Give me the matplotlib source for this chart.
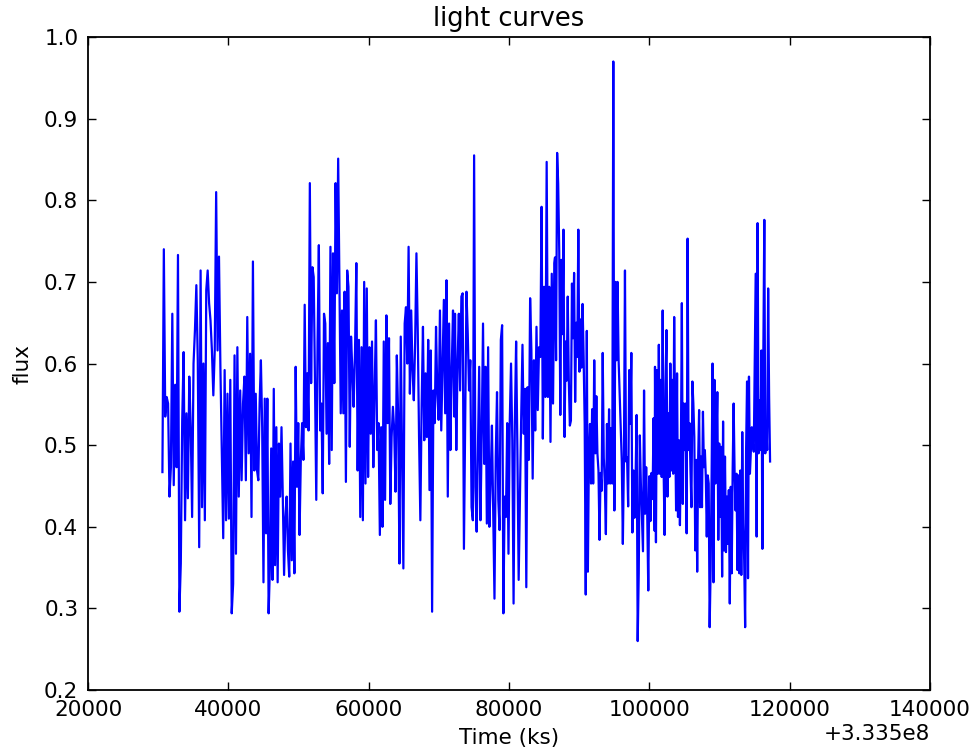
import numpy as np
import matplotlib
matplotlib.use("Agg")
import matplotlib.pyplot as plt
from matplotlib.ticker import ScalarFormatter, MultipleLocator

# time offset of the observation (s)
t_ref = 3.335e8

# good time intervals (start, stop) relative to t_ref, one flux block each
gti_start = [30600, 43900, 58050, 72300, 86550, 100800]
gti_stop = [43700, 57850, 72200, 86450, 100750, 117200]

flux_1 = [0.467, 0.740, 0.535, 0.559, 0.551, 0.437, 0.473, 0.661, 0.451, 0.574,
          0.473, 0.733, 0.296, 0.355, 0.531, 0.614, 0.408, 0.539, 0.435, 0.584,
          0.522, 0.412, 0.600, 0.641, 0.696, 0.604, 0.375, 0.714, 0.424, 0.600,
          0.408, 0.690, 0.714, 0.674, 0.653, 0.616, 0.561, 0.616, 0.810, 0.616,
          0.731, 0.596, 0.490, 0.386, 0.592, 0.408, 0.563, 0.410, 0.580, 0.294,
          0.330, 0.610, 0.367, 0.620, 0.437, 0.567, 0.457, 0.551, 0.584, 0.457,
          0.657, 0.490, 0.612, 0.412, 0.725, 0.469]

flux_2 = [0.563, 0.469, 0.457, 0.551, 0.604, 0.522, 0.332, 0.557, 0.392, 0.557,
          0.294, 0.351, 0.496, 0.335, 0.569, 0.353, 0.522, 0.332, 0.502, 0.437,
          0.522, 0.437, 0.341, 0.412, 0.437, 0.371, 0.339, 0.502, 0.359, 0.480,
          0.343, 0.596, 0.449, 0.527, 0.390, 0.482, 0.527, 0.482, 0.672, 0.522,
          0.588, 0.518, 0.821, 0.576, 0.718, 0.706, 0.576, 0.433, 0.627, 0.745,
          0.518, 0.551, 0.441, 0.661, 0.649, 0.514, 0.625, 0.477, 0.743, 0.494,
          0.735, 0.576, 0.821, 0.686, 0.851, 0.698, 0.539, 0.665, 0.539, 0.688,
          0.455, 0.714, 0.694, 0.498, 0.633, 0.592, 0.547]

flux_3 = [0.616, 0.723, 0.469, 0.629, 0.412, 0.620, 0.408, 0.700, 0.453, 0.692,
          0.461, 0.620, 0.514, 0.627, 0.473, 0.567, 0.653, 0.494, 0.527, 0.390,
          0.522, 0.400, 0.627, 0.433, 0.659, 0.527, 0.631, 0.428, 0.510, 0.547,
          0.518, 0.443, 0.610, 0.535, 0.355, 0.633, 0.494, 0.349, 0.649, 0.669,
          0.600, 0.743, 0.563, 0.665, 0.592, 0.555, 0.625, 0.735, 0.641, 0.510,
          0.408, 0.551, 0.645, 0.506, 0.588, 0.510, 0.629, 0.445, 0.616, 0.296,
          0.567, 0.527, 0.645, 0.563, 0.531, 0.665, 0.518, 0.596, 0.678, 0.539,
          0.702, 0.437, 0.649, 0.494, 0.592, 0.665, 0.535]

flux_4 = [0.661, 0.494, 0.600, 0.661, 0.567, 0.682, 0.686, 0.373, 0.535, 0.688,
          0.637, 0.567, 0.604, 0.424, 0.408, 0.855, 0.449, 0.394, 0.494, 0.596,
          0.408, 0.514, 0.649, 0.477, 0.596, 0.404, 0.620, 0.400, 0.457, 0.524,
          0.420, 0.312, 0.486, 0.565, 0.433, 0.396, 0.629, 0.647, 0.294, 0.437,
          0.412, 0.527, 0.367, 0.529, 0.600, 0.506, 0.306, 0.529, 0.627, 0.494,
          0.335, 0.437, 0.535, 0.623, 0.514, 0.569, 0.326, 0.571, 0.482, 0.680,
          0.616, 0.459, 0.604, 0.518, 0.645, 0.543, 0.620, 0.608, 0.792, 0.508,
          0.694, 0.559, 0.847, 0.559, 0.694, 0.504, 0.710, 0.551, 0.723]

flux_5 = [0.730, 0.604, 0.858, 0.820, 0.737, 0.537, 0.727, 0.636, 0.764, 0.510,
          0.627, 0.579, 0.682, 0.581, 0.524, 0.530, 0.698, 0.631, 0.711, 0.553,
          0.650, 0.608, 0.764, 0.590, 0.654, 0.595, 0.673, 0.608, 0.526, 0.317,
          0.640, 0.345, 0.490, 0.526, 0.453, 0.544, 0.453, 0.604, 0.490, 0.560,
          0.490, 0.469, 0.384, 0.466, 0.444, 0.613, 0.485, 0.453, 0.391, 0.526,
          0.453, 0.544, 0.453, 0.521, 0.453, 0.970, 0.420, 0.700, 0.604, 0.700,
          0.604, 0.563, 0.526, 0.480, 0.379, 0.480, 0.714, 0.480, 0.485, 0.425,
          0.592, 0.526, 0.613, 0.393, 0.469, 0.411, 0.460, 0.537, 0.260, 0.343,
          0.512, 0.453, 0.411, 0.370, 0.567, 0.416, 0.473, 0.416, 0.322, 0.462,
          0.407, 0.466, 0.434, 0.533, 0.395]

flux_6 = [0.596, 0.381, 0.592, 0.465, 0.623, 0.465, 0.580, 0.461, 0.665, 0.469,
          0.390, 0.576, 0.641, 0.437, 0.539, 0.461, 0.600, 0.469, 0.580, 0.465,
          0.657, 0.527, 0.420, 0.588, 0.412, 0.506, 0.402, 0.494, 0.674, 0.428,
          0.551, 0.494, 0.551, 0.392, 0.753, 0.494, 0.527, 0.469, 0.424, 0.578,
          0.551, 0.510, 0.371, 0.482, 0.345, 0.482, 0.543, 0.424, 0.486, 0.424,
          0.541, 0.473, 0.494, 0.461, 0.388, 0.463, 0.453, 0.277, 0.347, 0.457,
          0.600, 0.332, 0.580, 0.453, 0.502, 0.565, 0.384, 0.502, 0.412, 0.498,
          0.339, 0.529, 0.371, 0.486, 0.369, 0.437, 0.379, 0.445, 0.306, 0.449,
          0.343, 0.471, 0.551, 0.467, 0.420, 0.465, 0.347, 0.463, 0.343, 0.469,
          0.341, 0.516, 0.404, 0.359, 0.277, 0.494, 0.578, 0.337, 0.584, 0.465,
          0.494, 0.522, 0.502, 0.492, 0.600, 0.710, 0.388, 0.772, 0.490, 0.555,
          0.494, 0.616, 0.373, 0.616, 0.776, 0.490, 0.527, 0.494, 0.692, 0.560,
          0.480]

blocks = [flux_1, flux_2, flux_3, flux_4, flux_5, flux_6]

time = np.concatenate([np.linspace(a, b, len(f))
                       for a, b, f in zip(gti_start, gti_stop, blocks)]) + t_ref
flux = np.concatenate(blocks)

plt.rcParams['font.family'] = 'DejaVu Sans'

fig = plt.figure(figsize=(9.75, 7.55), dpi=100, facecolor='w')
ax = fig.add_axes([0.0903, 0.086, 0.8636, 0.865])

ax.plot(time, flux, color='b', lw=1.6)

ax.set_xlim(t_ref + 20000, t_ref + 140000)
ax.set_ylim(0.2, 1.0)
ax.xaxis.set_major_locator(MultipleLocator(20000))
ax.yaxis.set_major_locator(MultipleLocator(0.1))
ax.xaxis.set_major_formatter(ScalarFormatter(useOffset=t_ref))
ax.xaxis.get_offset_text().set_fontsize(15.5)

ax.tick_params(direction='in', top=True, right=True, length=6, width=1,
               labelsize=15.5, pad=7)
for s in ax.spines.values():
    s.set_linewidth(1.3)

ax.set_title('light curves', fontsize=18.5, pad=8)
ax.set_xlabel('Time (ks)', fontsize=15.5, labelpad=6)
ax.set_ylabel('flux', fontsize=15.5, labelpad=8)

fig.savefig('out.png', dpi=100, facecolor='w')
